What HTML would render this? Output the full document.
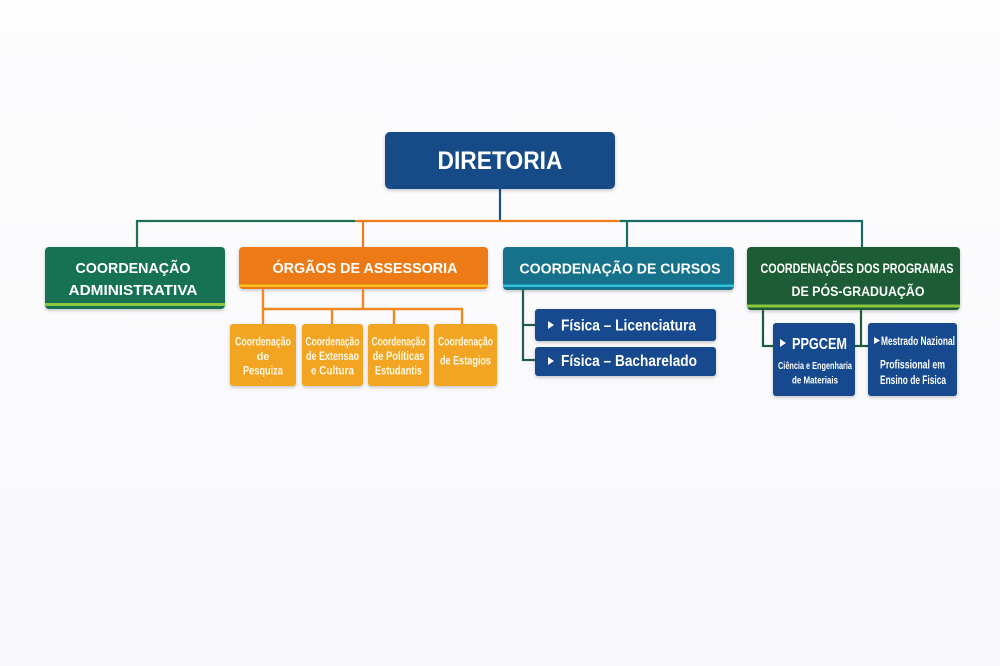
<!DOCTYPE html>
<html>
<head>
<meta charset="utf-8">
<style>
  html,body{margin:0;padding:0;background:#fafafc;}
  svg{display:block;}
  text{font-family:"Liberation Sans",sans-serif;font-weight:bold;fill:#fff;}
</style>
</head>
<body>
<svg width="1000" height="666" viewBox="0 0 1000 666" xmlns="http://www.w3.org/2000/svg">
  <defs>
    <filter id="sh" x="-10%" y="-10%" width="120%" height="130%">
      <feDropShadow dx="0" dy="1.5" stdDeviation="1.5" flood-color="#000" flood-opacity="0.22"/>
    </filter>
    <linearGradient id="bg" x1="0" y1="0" x2="0" y2="1">
      <stop offset="0" stop-color="#fdfdfe"/>
      <stop offset="1" stop-color="#f8f8fb"/>
    </linearGradient>
  </defs>
  <rect x="0" y="0" width="1000" height="666" fill="url(#bg)"/>

  <!-- top connectors -->
  <line x1="500" y1="189" x2="500" y2="221" stroke="#1b4f8a" stroke-width="2.2"/>
  <line x1="137" y1="221" x2="355" y2="221" stroke="#1e6e50" stroke-width="2.2"/>
  <line x1="355" y1="221" x2="620" y2="221" stroke="#ee7a1a" stroke-width="2.2"/>
  <line x1="620" y1="221" x2="863" y2="221" stroke="#1a6b62" stroke-width="2.2"/>
  <line x1="137" y1="220" x2="137" y2="248" stroke="#1e6e50" stroke-width="2.2"/>
  <line x1="363" y1="220" x2="363" y2="248" stroke="#ee7a1a" stroke-width="2.2"/>
  <line x1="627" y1="220" x2="627" y2="248" stroke="#1a6b62" stroke-width="2.2"/>
  <line x1="862" y1="220" x2="862" y2="248" stroke="#1a6b62" stroke-width="2.2"/>

  <!-- DIRETORIA -->
  <rect x="385" y="132" width="230" height="57" rx="5" fill="#134b88" filter="url(#sh)"/>
  <text x="500" y="169" font-size="25" text-anchor="middle" textLength="125" lengthAdjust="spacingAndGlyphs">DIRETORIA</text>

  <!-- Coordenação Administrativa -->
  <rect x="45" y="247" width="180" height="62" rx="4" fill="#137252" filter="url(#sh)"/>
  <rect x="45" y="303" width="180" height="3" fill="#8dc63f"/>
  <text x="133" y="273" font-size="15" text-anchor="middle" textLength="115" lengthAdjust="spacingAndGlyphs">COORDENAÇÃO</text>
  <text x="133" y="295" font-size="15" text-anchor="middle" textLength="129" lengthAdjust="spacingAndGlyphs">ADMINISTRATIVA</text>

  <!-- Órgãos de Assessoria -->
  <rect x="239" y="247" width="249" height="42" rx="4" fill="#ec7a17" filter="url(#sh)"/>
  <rect x="239" y="284.5" width="249" height="2.5" fill="#ffc21a"/>
  <text x="365" y="273" font-size="15" text-anchor="middle" textLength="185" lengthAdjust="spacingAndGlyphs">ÓRGÃOS DE ASSESSORIA</text>

  <!-- Coordenação de Cursos -->
  <rect x="503" y="247" width="231" height="43" rx="4" fill="#13728a" filter="url(#sh)"/>
  <rect x="503" y="284.5" width="231" height="2.5" fill="#2ec3dc"/>
  <text x="620" y="273.5" font-size="15" text-anchor="middle" textLength="201" lengthAdjust="spacingAndGlyphs">COORDENAÇÃO DE CURSOS</text>

  <!-- Pós-graduação -->
  <rect x="747" y="247" width="213" height="63" rx="4" fill="#1a5d36" filter="url(#sh)"/>
  <rect x="747" y="304.5" width="213" height="3" fill="#8dc63f"/>
  <text x="857" y="273" font-size="13.5" text-anchor="middle" textLength="193" lengthAdjust="spacingAndGlyphs">COORDENAÇÕES DOS PROGRAMAS</text>
  <text x="858" y="296" font-size="13.5" text-anchor="middle" textLength="133" lengthAdjust="spacingAndGlyphs">DE PÓS-GRADUAÇÃO</text>

  <!-- orange sub connectors -->
  <g stroke="#ee8a22" stroke-width="2.4" fill="none">
    <line x1="263" y1="289" x2="263" y2="324"/>
    <line x1="363" y1="289" x2="363" y2="309"/>
    <line x1="262" y1="309" x2="463" y2="309"/>
    <line x1="332" y1="309" x2="332" y2="324"/>
    <line x1="394" y1="309" x2="394" y2="324"/>
    <line x1="462" y1="309" x2="462" y2="324"/>
  </g>

  <!-- orange subs -->
  <g filter="url(#sh)" fill="#f2a520">
    <rect x="230" y="324" width="66" height="62" rx="3"/>
    <rect x="302" y="324" width="61" height="62" rx="3"/>
    <rect x="368" y="324" width="61" height="62" rx="3"/>
    <rect x="434" y="324" width="63" height="62" rx="3"/>
  </g>
  <g font-size="11.5" text-anchor="middle">
    <text x="263" y="345.5" textLength="56" lengthAdjust="spacingAndGlyphs" style="fill:#fff8e6">Coordenação</text>
    <text x="263" y="360" font-size="11" style="fill:#fff8e6">de</text>
    <text x="263" y="374.5" textLength="40" lengthAdjust="spacingAndGlyphs" style="fill:#fff8e6">Pesquiza</text>

    <text x="332.5" y="345.5" textLength="54" lengthAdjust="spacingAndGlyphs" style="fill:#fff8e6">Coordenação</text>
    <text x="332.5" y="360" textLength="53" lengthAdjust="spacingAndGlyphs" style="fill:#fff8e6">de Extensao</text>
    <text x="332.5" y="374.5" textLength="43" lengthAdjust="spacingAndGlyphs" style="fill:#fff8e6">e Cultura</text>

    <text x="398.5" y="345.5" textLength="54" lengthAdjust="spacingAndGlyphs" style="fill:#fff8e6">Coordenação</text>
    <text x="398.5" y="360" textLength="52" lengthAdjust="spacingAndGlyphs" style="fill:#fff8e6">de Políticas</text>
    <text x="398.5" y="374.5" textLength="47" lengthAdjust="spacingAndGlyphs" style="fill:#fff8e6">Estudantis</text>

    <text x="465.5" y="345.5" textLength="55" lengthAdjust="spacingAndGlyphs" style="fill:#fff8e6">Coordenação</text>
    <text x="465.5" y="364.5" textLength="51" lengthAdjust="spacingAndGlyphs" style="fill:#fff8e6">de Estagios</text>
  </g>

  <!-- cursos connectors -->
  <g stroke="#1f5c58" stroke-width="2.2" fill="none">
    <line x1="523" y1="290" x2="523" y2="361"/>
    <line x1="522" y1="325" x2="536" y2="325"/>
    <line x1="522" y1="360" x2="536" y2="360"/>
  </g>
  <rect x="535" y="309" width="181" height="32" rx="3" fill="#164a8d" filter="url(#sh)"/>
  <rect x="535" y="347" width="181" height="29" rx="3" fill="#164a8d" filter="url(#sh)"/>
  <polygon points="548,321 548,329 554,325" fill="#fff"/>
  <polygon points="548,357 548,365 554,361" fill="#fff"/>
  <text x="561" y="330.5" font-size="15.5" textLength="135" lengthAdjust="spacingAndGlyphs">Física – Licenciatura</text>
  <text x="561" y="366" font-size="15.5" textLength="136" lengthAdjust="spacingAndGlyphs">Física – Bacharelado</text>

  <!-- pos connectors -->
  <g stroke="#1d5b3a" stroke-width="2.2" fill="none">
    <line x1="763" y1="310" x2="763" y2="347"/>
    <line x1="762" y1="346" x2="774" y2="346"/>
    <line x1="861" y1="310" x2="861" y2="347"/>
    <line x1="854" y1="346" x2="869" y2="346"/>
  </g>
  <rect x="773" y="323" width="82" height="73" rx="3" fill="#164a8d" filter="url(#sh)"/>
  <rect x="868" y="323" width="89" height="73" rx="3" fill="#164a8d" filter="url(#sh)"/>
  <polygon points="780,339 780,347 786,343" fill="#fff"/>
  <text x="792" y="349" font-size="16" textLength="55" lengthAdjust="spacingAndGlyphs">PPGCEM</text>
  <text x="815" y="369" font-size="10.5" text-anchor="middle" textLength="74" lengthAdjust="spacingAndGlyphs">Ciência e Engenharia</text>
  <text x="815" y="383.5" font-size="10.5" text-anchor="middle" textLength="46" lengthAdjust="spacingAndGlyphs">de Materiais</text>

  <polygon points="874,337 874,344 880,340.5" fill="#fff"/>
  <text x="881" y="345" font-size="11.5" textLength="74" lengthAdjust="spacingAndGlyphs">Mestrado Nazional</text>
  <text x="912.5" y="368.5" font-size="11.5" text-anchor="middle" textLength="65" lengthAdjust="spacingAndGlyphs">Profissional em</text>
  <text x="913" y="384" font-size="11.5" text-anchor="middle" textLength="66" lengthAdjust="spacingAndGlyphs">Ensino de Fisica</text>
</svg>
</body>
</html>
